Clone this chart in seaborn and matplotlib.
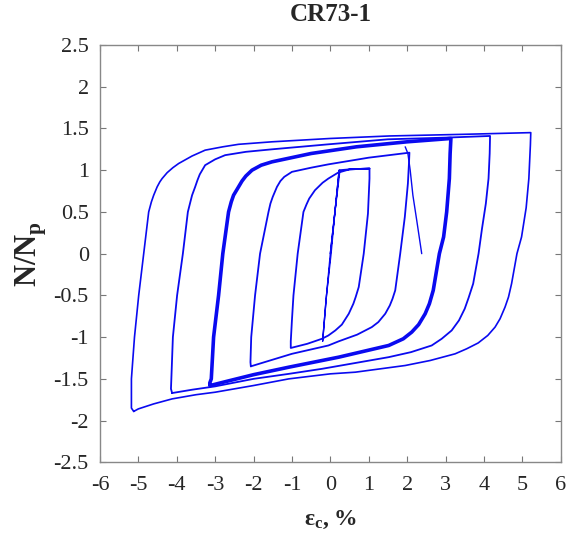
import pandas as pd
import matplotlib.pyplot as plt
import seaborn as sns

# strain (%) and normalised load N/Np

# elastic cycles at the start
elastic_strain = [0.0, 0.12, 0.23, 0.12, 0.02, -0.1, -0.2, -0.12, 0.0, 0.12, 0.25]
elastic_load = [0.0, 0.5, 1.0, 0.5, 0.0, -0.5, -1.05, -0.6, 0.0, 0.5, 1.0]

# +/-1 % cycle
cyc1_strain = [0.25, 0.5, 1.02, 1.02, 0.98, 0.87, 0.74, 0.66, 0.6, 0.48, 0.3,
               0.13, -0.05, -0.22, -0.6, -1.03, -1.03, -1.0, -0.96, -0.85,
               -0.7, -0.62, -0.55, -0.4, -0.2, -0.05, 0.2, 0.5, 1.02]
cyc1_load = [1.0, 1.01, 1.02, 0.9, 0.48, 0.0, -0.4, -0.52, -0.6, -0.72, -0.85,
             -0.92, -0.98, -1.02, -1.08, -1.13, -1.05, -0.8, -0.5, 0.0,
             0.5, 0.59, 0.66, 0.76, 0.85, 0.9, 0.97, 1.01, 1.02]

# +/-2 % cycle
cyc2_strain = [-2.07, -2.08, -2.06, -1.96, -1.83, -1.61, -1.56, -1.5, -1.39,
               -1.3, -1.2, -1.0, -0.5, -0.05, 1.0, 2.06, 2.05, 2.02, 1.94,
               1.82, 1.69, 1.62, 1.55, 1.43, 1.25, 1.08, 0.7, 0.22, -0.05,
               -1.0, -1.5, -2.07]
cyc2_load = [-1.35, -1.3, -1.0, -0.5, 0.0, 0.5, 0.6, 0.68, 0.8,
             0.87, 0.92, 0.98, 1.03, 1.07, 1.15, 1.21, 1.1, 0.84, 0.44,
             0.0, -0.44, -0.54, -0.62, -0.72, -0.82, -0.88, -0.97, -1.05, -1.1,
             -1.2, -1.27, -1.35]

# +/-3 % cycles (several, drawn as a heavy band)
cyc3_strain = [-3.13, -3.14, -3.1, -3.04, -2.91, -2.8, -2.65, -2.58, -2.52,
               -2.39, -2.3, -2.2, -2.04, -1.8, -1.52, -0.5, 0.68, 2.0, 3.14,
               3.12, 3.1, 3.03, 2.95, 2.84, 2.68, 2.58, 2.47, 2.3, 2.12, 1.9,
               1.52, 0.22, -1.08, -2.0, -2.7, -3.13]
cyc3_load = [-1.58, -1.55, -1.5, -1.0, -0.5, 0.0, 0.5, 0.62, 0.7,
             0.8, 0.87, 0.93, 1.0, 1.06, 1.1, 1.2, 1.28, 1.34, 1.38,
             1.2, 0.9, 0.5, 0.2, 0.0, -0.44, -0.6, -0.72, -0.85, -0.94, -1.02,
             -1.1, -1.24, -1.36, -1.45, -1.53, -1.58]

# +/-4 % cycle
cyc4_strain = [-4.12, -4.15, -4.14, -4.1, -3.99, -3.84, -3.71, -3.65, -3.6,
               -3.52, -3.46, -3.4, -3.26, -3.0, -2.74, -2.2, -1.52, -0.05,
               1.5, 3.0, 4.16, 4.15, 4.12, 4.05, 3.95, 3.86, 3.72, 3.6, 3.5,
               3.35, 3.16, 2.9, 2.64, 2.1, 1.52, -0.22, -1.08, -2.0, -3.0,
               -3.6, -4.12]
cyc4_load = [-1.67, -1.62, -1.5, -1.0, -0.5, 0.0, 0.5, 0.61, 0.7,
             0.8, 0.88, 0.95, 1.06, 1.13, 1.18, 1.22, 1.25, 1.31,
             1.37, 1.39, 1.41, 1.2, 0.9, 0.6, 0.3, 0.0, -0.36, -0.53, -0.66,
             -0.8, -0.92, -1.02, -1.1, -1.18, -1.24, -1.38, -1.44, -1.5, -1.59,
             -1.63, -1.67]

# +/-5 % cycle
cyc5_strain = [-5.12, -5.18, -5.18, -5.1, -4.99, -4.86, -4.73, -4.66, -4.6,
               -4.51, -4.44, -4.38, -4.25, -4.1, -3.95, -3.6, -3.26, -2.8,
               -2.39, -1.52, 0.0, 1.54, 3.5, 5.22, 5.21, 5.2, 5.17, 5.1, 4.98,
               4.86, 4.72, 4.64, 4.55, 4.42, 4.29, 4.1, 3.85, 3.55, 3.25, 2.6,
               1.95, 0.65, 0.0, -1.08, -2.0, -3.0, -3.5, -4.12, -4.6, -5.0,
               -5.12]
cyc5_load = [-1.89, -1.85, -1.5, -1.0, -0.5, 0.0, 0.5, 0.62, 0.7,
             0.8, 0.86, 0.9, 0.97, 1.03, 1.08, 1.17, 1.24, 1.28,
             1.31, 1.34, 1.38, 1.41, 1.43, 1.45, 1.3, 1.2, 0.9, 0.55, 0.2,
             0.0, -0.36, -0.52, -0.64, -0.78, -0.88, -0.98, -1.07, -1.14, -1.2, -1.28,
             -1.34, -1.42, -1.44, -1.5, -1.58, -1.66, -1.69, -1.74, -1.8, -1.86,
             -1.89]

# last unloading branch
final_strain = [1.95, 2.02, 2.08, 2.15, 2.25, 2.38]
final_load = [1.28, 1.2, 1.0, 0.7, 0.4, 0.0]

x_ticks = [-6, -5, -4, -3, -2, -1, 0, 1, 2, 3, 4, 5, 6]
y_ticks = [-2.5, -2, -1.5, -1, -0.5, 0, 0.5, 1, 1.5, 2, 2.5]

segments = [
    ("elastic", elastic_strain, elastic_load, 1.0),
    ("cyc1", cyc1_strain, cyc1_load, 1.3),
    ("cyc2", cyc2_strain, cyc2_load, 1.3),
    ("cyc3", cyc3_strain, cyc3_load, 2.6),
    ("cyc4", cyc4_strain, cyc4_load, 1.3),
    ("cyc5", cyc5_strain, cyc5_load, 1.2),
    ("final", final_strain, final_load, 1.0),
]

sns.set_style("ticks")
plt.rcParams["font.family"] = ["Liberation Serif", "DejaVu Serif"]
plt.rcParams["mathtext.fontset"] = "custom"
plt.rcParams["mathtext.rm"] = "Liberation Serif"
plt.rcParams["mathtext.bf"] = "Liberation Serif:bold"
plt.rcParams["axes.unicode_minus"] = False

fig = plt.figure(figsize=(5.71, 5.42), dpi=100)
ax = fig.add_axes([0.175, 0.147, 0.807, 0.77])

for name, sx, sy, lw in segments:
    df = pd.DataFrame({"strain": sx, "load": sy, "order": range(len(sx))})
    sns.lineplot(data=df, x="strain", y="load", sort=False, estimator=None,
                 color="#0a0af0", linewidth=lw, ax=ax)

ax.set_xlim(-6, 6)
ax.set_ylim(-2.5, 2.5)
ax.set_xticks(x_ticks)
ax.set_xticklabels([f"{v:g}" for v in x_ticks])
ax.set_yticks(y_ticks)
ax.set_yticklabels([f"{v:g}" for v in y_ticks])
ax.tick_params(direction="in", length=4, width=0.8, top=True, right=True,
               labelsize=16, color="#777777")
ax.tick_params(axis="x", pad=10)
ax.tick_params(axis="y", pad=8)
for sp in ax.spines.values():
    sp.set_color("#888888")
    sp.set_linewidth(1.0)

ax.set_title("CR73-1", fontsize=18, fontweight="bold", pad=17)
ax.set_xlabel(r"$\mathbf{ε_c}$, %", fontsize=17, fontweight="bold", labelpad=10)
ax.set_ylabel(r"N/N$_\mathbf{p}$", fontsize=22, fontweight="bold", labelpad=3)

fig.savefig("out.png", dpi=100)
